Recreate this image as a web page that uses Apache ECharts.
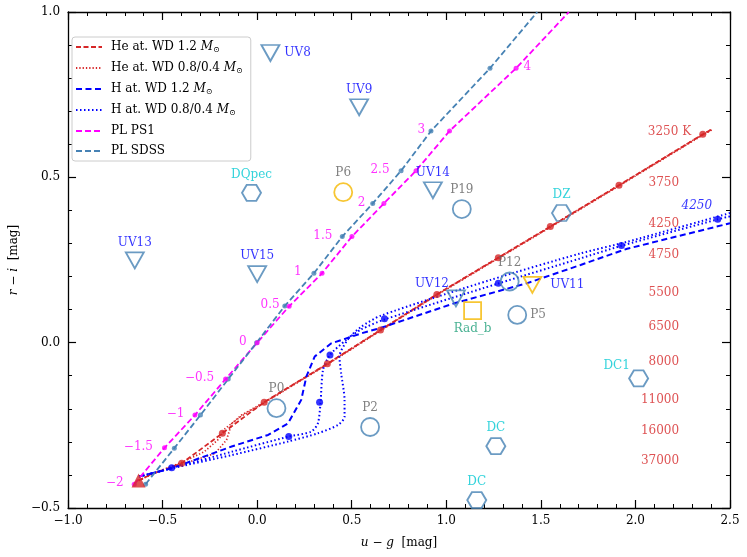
<!DOCTYPE html>
<html>
<head>
<meta charset="utf-8">
<script src="https://cdn.jsdelivr.net/npm/echarts/dist/echarts.min.js"></script>
<style>
html, body { margin: 0; padding: 0; background: #fff; }
#chart { width: 747px; height: 557px; }
</style>
</head>
<body>
<div id="chart"></div>
<script>
// model tracks as [u-g, r-i]
var heDash = [[-0.627,-0.417],[-0.56,-0.398],[-0.399,-0.365],[-0.184,-0.274],[0.037,-0.180],[0.371,-0.064],[0.652,0.038],[0.950,0.146],[1.275,0.257],[1.550,0.351],[1.913,0.476],[2.356,0.630],[2.403,0.645]];
var heDot1 = [[-0.627,-0.417],[-0.55,-0.395],[-0.382,-0.365],[-0.223,-0.335],[-0.162,-0.294],[-0.135,-0.245],[-0.083,-0.219],[0.037,-0.180],[0.371,-0.064],[0.652,0.038],[0.950,0.146],[1.275,0.257],[1.550,0.351],[1.913,0.476],[2.356,0.630],[2.403,0.645]];
var heDot2 = [[-0.627,-0.417],[-0.55,-0.396],[-0.399,-0.362],[-0.28,-0.330],[-0.20,-0.290],[-0.17,-0.260],[-0.083,-0.222],[0.037,-0.182],[0.371,-0.066],[0.652,0.036],[0.950,0.144],[1.275,0.255],[1.550,0.349],[1.913,0.474],[2.356,0.628],[2.403,0.643]];
var heDots = [[-0.399,-0.365],[-0.184,-0.274],[0.037,-0.180],[0.371,-0.064],[0.652,0.038],[0.950,0.146],[1.275,0.257],[1.550,0.351],[1.913,0.476],[2.356,0.630]];
var heEnd = [[-0.627,-0.417]];

var hDash = [[-0.625,-0.405],[-0.452,-0.380],[-0.135,-0.314],[0.058,-0.279],[0.163,-0.244],[0.233,-0.173],[0.260,-0.103],[0.304,-0.042],[0.392,-0.002],[0.550,0.028],[0.655,0.045],[1.042,0.119],[1.428,0.180],[1.710,0.235],[1.956,0.284],[2.5,0.361]];
var hDotA = [[-0.625,-0.405],[-0.452,-0.380],[-0.135,-0.330],[0.167,-0.284],[0.286,-0.269],[0.321,-0.244],[0.335,-0.181],[0.348,-0.083],[0.385,-0.037],[0.47,0.008],[0.55,0.040],[0.673,0.070],[1.275,0.179],[1.710,0.255],[1.926,0.293],[2.435,0.373],[2.5,0.382]];
var hDotB = [[-0.625,-0.405],[-0.452,-0.380],[-0.135,-0.340],[0.163,-0.299],[0.321,-0.274],[0.427,-0.249],[0.462,-0.224],[0.462,-0.173],[0.444,-0.093],[0.435,-0.042],[0.48,0.010],[0.55,0.048],[0.655,0.082],[1.235,0.190],[1.710,0.270],[1.956,0.305],[2.5,0.392]];
var hDots = [[-0.452,-0.378],[0.167,-0.284],[0.330,-0.180],[0.385,-0.037],[0.673,0.072],[1.275,0.180],[1.926,0.294],[2.435,0.373]];

// power laws, with their index labels
var ps1U = [-0.650,-0.490,-0.329,-0.167,0.000,0.169,0.343,0.501,0.670,0.840,1.017,1.369];
var ps1R = [-0.428,-0.318,-0.219,-0.110,0.000,0.110,0.210,0.321,0.421,0.520,0.640,0.830];
var ps1Lab = ['\u22122','\u22121.5','\u22121','\u22120.5','0','0.5','1','1.5','2','2.5','3','4'];
var ps1Edge = [1.648, 1.0];
var sdssU = [-0.590,-0.438,-0.300,-0.153,-0.003,0.146,0.300,0.450,0.611,0.761,0.919,1.231];
var sdssR = [-0.428,-0.319,-0.219,-0.110,0.000,0.111,0.210,0.321,0.421,0.520,0.640,0.830];
var sdssEdge = [1.481, 1.0];

// temperature labels of the He track
var heTempLab = ['3250 K','3750','4250','4750','5500','6500','8000','11000','16000','37000'];
var heTempR = [0.636,0.482,0.358,0.265,0.152,0.047,-0.057,-0.173,-0.266,-0.358];
var hTempLab = ['4250'];
var hTempR = [0.414];

// observed objects
var uvNames = ['UV8','UV9','UV13','UV14','UV15','UV12','UV11'];
var uvU = [0.070,0.539,-0.647,0.929,0.000,1.051,1.455];
var uvR = [0.876,0.712,0.249,0.461,0.207,0.134,0.175];
var pNames = ['P6','P19','P12','P5','P0','P2'];
var pU = [0.455,1.082,1.335,1.375,0.102,0.597];
var pR = [0.455,0.404,0.185,0.084,-0.198,-0.255];
var dNames = ['DQpec','DZ','DC1','DC','DC'];
var dU = [-0.030,1.609,2.017,1.262,1.161];
var dR = [0.453,0.392,-0.108,-0.313,-0.476];
var rNames = ['Rad_b'];
var rU = [1.139];
var rR = [0.097];

var RED = '#d62728', BLUE = '#0000ff', MAG = '#ff00ff', STEEL = '#4682b4', GOLD = '#f5b800';
var SERIF = '"DejaVu Serif", "Liberation Serif", serif';
var hexagon = 'path://M-1,0 L-0.5,-0.866 L0.5,-0.866 L1,0 L0.5,0.866 L-0.5,0.866 Z';

var gold = { UV11: 1, P6: 1, Rad_b: 1 };
var place = {
    UV8: { position: 'right', distance: 4 },
    UV11: { position: 'right', distance: 8 },
    P5: { position: 'right', distance: 3 },
    Rad_b: { position: 'bottom', distance: 3 },
    UV12: { position: 'top', distance: 2, offset: [-24, 2] },
    DC1: { position: 'top', distance: 2, offset: [-22, 4] }
};
// gap between a PS1 point and its index label
var ps1Gap = [8, 9, 8, 9, 8, 7, 18, 17, 16, 24, 22, 5];

function zip(xs, ys) {
    var out = [];
    for (var i = 0; i < xs.length; i++) out.push([xs[i], ys[i]]);
    return out;
}

function curve(name, pts, color, dash, width, smooth) {
    return {
        name: name, type: 'line', data: pts, symbol: 'none', smooth: smooth || false,
        lineStyle: { color: color, width: width, type: dash },
        itemStyle: { color: color }, silent: true, z: 3
    };
}

function dots(pts, color, size, symbol) {
    return {
        type: 'scatter', data: pts, symbol: symbol || 'circle', symbolSize: size,
        itemStyle: { color: color }, silent: true, z: 4
    };
}

function objects(names, us, rs, symbol, size, rotate, labColor) {
    var data = [];
    for (var i = 0; i < names.length; i++) {
        var p = place[names[i]] || { position: 'top', distance: 3 };
        data.push({
            value: [us[i], rs[i]],
            itemStyle: { borderColor: gold[names[i]] ? GOLD : STEEL },
            label: {
                show: true, formatter: names[i], position: p.position,
                distance: p.distance, offset: p.offset || [0, 0]
            }
        });
    }
    return {
        type: 'scatter', data: data, symbol: symbol, symbolSize: size, symbolRotate: rotate || 0,
        itemStyle: { color: 'rgba(0,0,0,0)', borderWidth: 1.8 },
        label: { color: labColor, fontFamily: SERIF, fontSize: 12 },
        silent: true, z: 5
    };
}

function indexLabels(us, rs, labs, color) {
    var data = [];
    for (var i = 0; i < us.length; i++) {
        data.push({
            value: [us[i], rs[i]],
            label: { show: true, formatter: labs[i], position: labs[i] == '4' ? 'right' : 'left', distance: ps1Gap[i], offset: [0, -1] }
        });
    }
    return {
        type: 'scatter', data: data, symbolSize: 5, itemStyle: { color: color },
        label: { color: color, fontFamily: SERIF, fontSize: 12 }, silent: true, z: 4
    };
}

function textCol(x, rs, labs, color, style, shift) {
    var data = [];
    for (var i = 0; i < rs.length; i++) {
        data.push({
            value: [x, rs[i]],
            label: { offset: [shift && labs[i].indexOf('K') > 0 ? 12 : 0, 0] }
        });
    }
    return {
        type: 'scatter', data: data, symbolSize: 0, silent: true, z: 6,
        label: {
            show: true, position: 'left', distance: 0,
            formatter: function (p) { return labs[p.dataIndex]; },
            color: color, fontFamily: SERIF, fontSize: 12, fontStyle: style
        }
    };
}

var sun = '{i|M}{s|\u2299}';
var legendNames = ['He at. WD 1.2', 'He at. WD 0.8/0.4', 'H at. WD 1.2', 'H at. WD 0.8/0.4', 'PL PS1', 'PL SDSS'];

var axisCommon = {
    type: 'value',
    axisLine: { show: true, onZero: false, lineStyle: { color: '#000', width: 1.3 } },
    axisTick: { show: true, inside: true, length: 8, lineStyle: { color: '#000', width: 1.2 } },
    minorTick: { show: true, splitNumber: 5, length: 4, lineStyle: { color: '#000', width: 1 } },
    splitLine: { show: false },
    axisLabel: {
        color: '#000', fontFamily: SERIF, fontSize: 12,
        formatter: function (v) { return (v < 0 ? '\u2212' : '') + Math.abs(v).toFixed(1); }
    }
};

function axis(extra) {
    return echarts.util.merge(echarts.util.clone(axisCommon), extra, true);
}

var myChart = echarts.init(document.getElementById('chart'));

var option = {
    animation: false,
    backgroundColor: '#fff',
    grid: { left: 66, right: 17, top: 12, bottom: 49 },
    legend: {
        data: legendNames, orient: 'vertical', left: 72, top: 37,
        padding: [4, 8, 4, 3], itemWidth: 26, itemHeight: 10, itemGap: 8,
        backgroundColor: 'rgba(255,255,255,0.85)', borderColor: '#cccccc', borderWidth: 1, borderRadius: 3,
        selectedMode: false,
        itemStyle: { opacity: 0 },
        formatter: function (n) { return n.indexOf('WD') >= 0 ? n + ' ' + sun : n; },
        textStyle: {
            color: '#000', fontFamily: SERIF, fontSize: 12, padding: [0, 0, 0, 4],
            rich: {
                i: { fontFamily: SERIF, fontSize: 12, fontStyle: 'italic', color: '#000' },
                s: { fontFamily: SERIF, fontSize: 8, color: '#000', padding: [6, 0, 0, 0] }
            }
        }
    },
    xAxis: [
        axis({
            min: -1, max: 2.5, interval: 0.5, position: 'bottom',
            name: '{i|u} \u2212 {i|g}  [mag]', nameLocation: 'middle', nameGap: 29,
            nameTextStyle: { color: '#000', fontFamily: SERIF, fontSize: 12, rich: { i: { fontFamily: SERIF, fontSize: 12, fontStyle: 'italic' } } },
            axisLabel: { margin: 7 }
        }),
        axis({ min: -1, max: 2.5, interval: 0.5, position: 'top', axisLabel: { show: false } })
    ],
    yAxis: [
        axis({
            min: -0.5, max: 1, interval: 0.5, position: 'left',
            name: '{i|r} \u2212 {i|i}  [mag]', nameLocation: 'middle', nameGap: 32,
            nameTextStyle: { color: '#000', fontFamily: SERIF, fontSize: 12, rich: { i: { fontFamily: SERIF, fontSize: 12, fontStyle: 'italic' } } },
            axisLabel: { margin: 8 }
        }),
        axis({ min: -0.5, max: 1, interval: 0.5, position: 'right', axisLabel: { show: false } })
    ],
    series: [
        curve(legendNames[0], heDash, RED, [5, 2.5], 1.8),
        curve(legendNames[1], heDot1, RED, [1.3, 2], 1.7),
        curve(legendNames[1], heDot2, RED, [1.3, 2], 1.7),
        curve(legendNames[2], hDash, BLUE, [6, 3.5], 2),
        curve(legendNames[3], hDotA, BLUE, [1.5, 2.5], 2, 0.25),
        curve(legendNames[3], hDotB, BLUE, [1.5, 2.5], 2, 0.25),
        curve(legendNames[4], zip(ps1U, ps1R).concat([ps1Edge]), MAG, [6, 3], 1.8),
        curve(legendNames[5], zip(sdssU, sdssR).concat([sdssEdge]), STEEL, [6, 3], 1.8),
        dots(heDots, RED, 7),
        dots(hDots, BLUE, 7),
        dots(zip(sdssU, sdssR), STEEL, 5),
        indexLabels(ps1U, ps1R, ps1Lab, MAG),
        dots(heEnd, RED, 14, 'triangle'),
        textCol(2.231, heTempR, heTempLab, RED, 'normal', true),
        textCol(2.405, hTempR, hTempLab, BLUE, 'italic', false),
        objects(uvNames, uvU, uvR, 'triangle', [18, 16], 180, BLUE),
        objects(pNames, pU, pR, 'circle', 18, 0, '#606060'),
        objects(dNames, dU, dR, hexagon, [19, 16], 0, '#00c8d2'),
        objects(rNames, rU, rR, 'rect', 17, 0, '#1b9e77')
    ]
};

myChart.setOption(option);
</script>
</body>
</html>
